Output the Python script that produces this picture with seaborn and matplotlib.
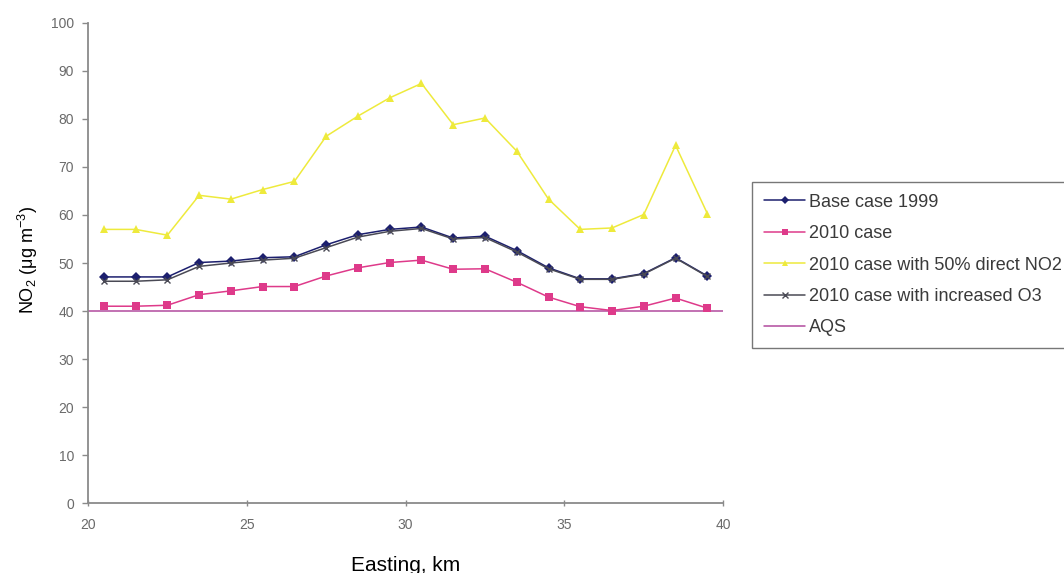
import numpy as np
import pandas as pd
import matplotlib
matplotlib.use("Agg")
import matplotlib.pyplot as plt
from matplotlib.lines import Line2D
import seaborn as sns

# Easting positions (km) of the receptor points along the transect
easting = [20.5, 21.5, 22.5, 23.5, 24.5, 25.5, 26.5, 27.5, 28.5, 29.5,
           30.5, 31.5, 32.5, 33.5, 34.5, 35.5, 36.5, 37.5, 38.5, 39.5]

# NO2 concentrations (ug m-3)
base_1999 = [47.1, 47.1, 47.1, 50.1, 50.4, 51.1, 51.3, 53.8, 55.9, 57.0,
             57.5, 55.2, 55.6, 52.6, 49.0, 46.7, 46.7, 47.8, 51.1, 47.3]
case_2010 = [41.0, 41.0, 41.2, 43.4, 44.2, 45.1, 45.1, 47.3, 49.0, 50.1,
             50.6, 48.7, 48.8, 46.0, 42.9, 40.9, 40.1, 41.0, 42.7, 40.6]
case_2010_no2 = [57.0, 57.0, 55.8, 64.1, 63.3, 65.3, 67.0, 76.4, 80.6, 84.4,
                 87.4, 78.8, 80.2, 73.3, 63.3, 57.0, 57.3, 60.1, 74.5, 60.3]
case_2010_o3 = [46.2, 46.2, 46.5, 49.3, 50.0, 50.6, 51.0, 53.2, 55.4, 56.6,
                57.2, 55.0, 55.3, 52.3, 48.8, 46.6, 46.6, 47.7, 51.0, 47.2]

# Air quality standard
aqs_x = [20, 40]
aqs_y = [40, 40]

series_names = ["Base case 1999", "2010 case", "2010 case with 50% direct NO2",
                "2010 case with increased O3", "AQS"]

frames = []
for name, vals in zip(series_names[:4], [base_1999, case_2010, case_2010_no2, case_2010_o3]):
    frames.append(pd.DataFrame({"Easting": easting, "NO2": vals, "Series": name}))
frames.append(pd.DataFrame({"Easting": aqs_x, "NO2": aqs_y, "Series": "AQS"}))
df = pd.concat(frames, ignore_index=True)

sns.set_theme(style="white")
plt.rcParams["font.family"] = ["Liberation Sans", "DejaVu Sans"]
plt.rcParams["mathtext.default"] = "regular"

palette = {
    "Base case 1999": "#1c1f6e",
    "2010 case": "#de3a8a",
    "2010 case with 50% direct NO2": "#eeea3c",
    "2010 case with increased O3": "#4a4a55",
    "AQS": "#b24a9e",
}
markers = {
    "Base case 1999": "D",
    "2010 case": "s",
    "2010 case with 50% direct NO2": "^",
    "2010 case with increased O3": "x",
    "AQS": "",
}
sizes = {
    "Base case 1999": 5,
    "2010 case": 6,
    "2010 case with 50% direct NO2": 6,
    "2010 case with increased O3": 5,
    "AQS": 0,
}

fig = plt.figure(figsize=(10.64, 5.73), dpi=100)
ax = fig.add_axes([0.0827, 0.122, 0.597, 0.838])

draw_order = ["AQS", "Base case 1999", "2010 case",
              "2010 case with 50% direct NO2", "2010 case with increased O3"]
for name in draw_order:
    sub = df[df["Series"] == name]
    sns.lineplot(data=sub, x="Easting", y="NO2", ax=ax, color=palette[name],
                 marker=markers[name] if markers[name] else None,
                 markersize=sizes[name], markeredgewidth=1.0 if name.endswith("O3") else 0,
                 markeredgecolor=palette[name],
                 linewidth=1.1, label=name, legend=False, sort=False,
                 estimator=None)

ax.set_xlim(20, 40)
ax.set_ylim(0, 100)
ax.set_xticks([20, 25, 30, 35, 40])
ax.set_yticks(np.arange(0, 101, 10))

for side in ["top", "right"]:
    ax.spines[side].set_visible(False)
for side in ["left", "bottom"]:
    ax.spines[side].set_color("#8a8a8a")
    ax.spines[side].set_linewidth(1.3)

ax.tick_params(axis="y", direction="out", length=4, width=1, color="#8a8a8a",
               labelsize=10, labelcolor="#6a6a6a", pad=6, left=True)
ax.tick_params(axis="x", direction="inout", length=5, width=1, color="#8a8a8a",
               labelsize=10, labelcolor="#6a6a6a", pad=8, bottom=True)

ax.set_xlabel("Easting, km", fontsize=15, color="black", va="center")
ax.xaxis.set_label_coords(0.5, -0.13)
ax.set_ylabel("NO$_2$ ($\\mu$g m$^{-3}$)", fontsize=13, color="black", va="center")
ax.yaxis.set_label_coords(-0.095, 0.506)

handles = []
for name in series_names:
    handles.append(Line2D([], [], color=palette[name],
                          marker=markers[name] if markers[name] else None,
                          markersize=sizes[name] - 1 if sizes[name] else 0,
                          markeredgewidth=1.0 if name.endswith("O3") else 0,
                          linewidth=1.1, label=name))
leg = fig.legend(handles=handles, loc="upper left", bbox_to_anchor=(0.7068, 0.6824),
                 borderaxespad=0, frameon=True, fancybox=False, fontsize=13,
                 handlelength=2.3, handletextpad=0.2, labelspacing=0.8,
                 borderpad=0.65, labelcolor="#3a3a3a")
leg.get_frame().set_edgecolor("#555555")
leg.get_frame().set_linewidth(1.0)

fig.savefig("out.png", dpi=100, facecolor="white")
